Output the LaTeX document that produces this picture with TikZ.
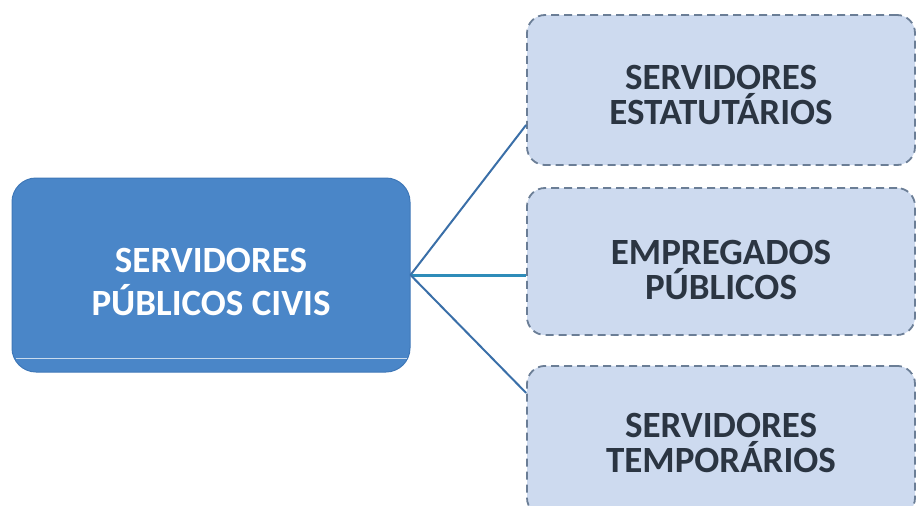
\documentclass[tikz,border=0pt]{standalone}
\usepackage{fontspec}
\setmainfont{Carlito}
\usetikzlibrary{calc}
\definecolor{mainblue}{HTML}{4A86C8}
\definecolor{mainedge}{HTML}{3F78B8}
\definecolor{lightbox}{HTML}{CDDAEF}
\definecolor{dashedge}{HTML}{6B7E96}
\definecolor{darktext}{HTML}{2B3542}
\definecolor{linkblue}{HTML}{3A6FA8}
\tikzset{
  mainbox/.style={draw=mainedge, line width=1pt, fill=mainblue, rounded corners=24pt,
    minimum width=398pt, minimum height=194pt, inner sep=0pt},
  maintxt/.style={align=center, text=white, font=\bfseries\fontsize{37}{43}\selectfont, inner sep=0pt},
  subbox/.style={draw=dashedge, line width=1.8pt, dash pattern=on 8pt off 5pt, fill=lightbox,
    rounded corners=18pt, minimum width=388pt, inner sep=0pt},
  subtxt/.style={align=center, text=darktext, font=\bfseries\fontsize{37}{35}\selectfont, inner sep=0pt},
  link/.style={draw=linkblue, line width=2pt},
  midlink/.style={draw=linkblue!80!cyan, line width=3pt}
}
\begin{document}
\begin{tikzpicture}[x=1pt,y=-1pt]
\useasboundingbox (0,0) rectangle (916,506);
\clip (0,0) rectangle (916,506);
\node[mainbox] (main) at (211,275) {};
\node[maintxt] (maintext) at (211,282) {SERVIDORES\\PÚBLICOS CIVIS};
\draw[white!70!mainblue, line width=1.5pt] ($(main.south west)+(4,-14)$) coordinate (bl) -- ($(main.south east)+(-4,-14)$) coordinate (br);
\node[subbox, minimum height=150pt] (top) at (721,90) {};
\node[subtxt] (toptext) at (721,95) {SERVIDORES\\ESTATUTÁRIOS};
\node[subbox, minimum height=147pt] (mid) at (721,261.5) {};
\node[subtxt] (midtext) at (721,270) {EMPREGADOS\\PÚBLICOS};
\node[subbox, minimum height=150pt, anchor=north] (bot) at (721,365) {};
\node[subtxt] (bottext) at (721,443) {SERVIDORES\\TEMPORÁRIOS};
\coordinate (topend) at ([yshift=-35pt]top.west);
\coordinate (midend) at (mid.west |- main.east);
\coordinate (botend) at ([yshift=48pt]bot.west);
\draw[link] (main.east) -- (topend);
\draw[midlink] (main.east) -- (midend);
\draw[link] (main.east) -- (botend);
\end{tikzpicture}
\end{document}
